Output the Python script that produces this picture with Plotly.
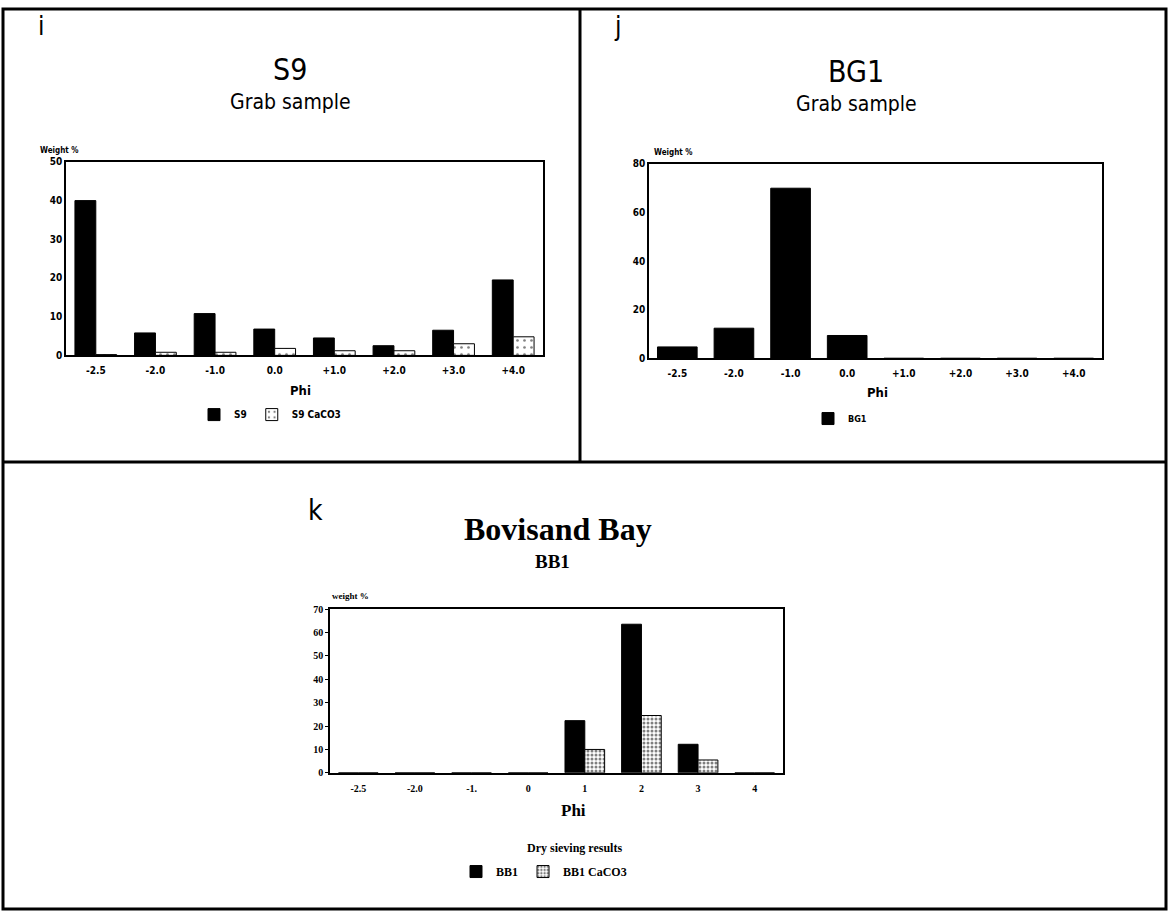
import plotly.graph_objects as go

# Sieve classes (phi) and weight percentages for each sample
phi_labels_grab = ["-2.5", "-2.0", "-1.0", "0.0", "+1.0", "+2.0", "+3.0", "+4.0"]
phi_labels_bb = ["-2.5", "-2.0", "-1.", "0", "1", "2", "3", "4"]

s9_total = [40.0, 5.8, 10.8, 6.8, 4.5, 2.5, 6.5, 19.5]
s9_caco3 = [0.2, 0.8, 0.8, 1.8, 1.2, 1.2, 3.0, 4.8]

bg1_total = [4.7, 12.4, 70.0, 9.4, 0.0, 0.0, 0.0, 0.0]

bb1_total = [0.0, 0.0, 0.0, 0.0, 22.3, 63.5, 12.2, 0.0]
bb1_caco3 = [0.0, 0.0, 0.0, 0.0, 10.0, 24.5, 5.5, 0.0]

W, H = 1170, 918


def fx(px):
    return px / W


def fy(py):
    return 1 - py / H


SANS = "Liberation Sans Narrow, DejaVu Sans Condensed, Arial, sans-serif"
BOLD_SANS = "DejaVu Sans Condensed, DejaVu Sans, sans-serif"
SERIF = "Liberation Serif, Times New Roman, serif"

fig = go.Figure()

# Panel i: S9
fig.add_trace(go.Bar(
    x=phi_labels_grab, y=s9_total, name="S9",
    marker=dict(color="black", line=dict(color="black", width=1)),
    xaxis="x", yaxis="y", legend="legend",
))
fig.add_trace(go.Bar(
    x=phi_labels_grab, y=s9_caco3, name="S9 CaCO3",
    marker=dict(color="white", line=dict(color="black", width=1),
                pattern=dict(shape=".", fgcolor="black", bgcolor="white",
                             size=7, solidity=0.12)),
    xaxis="x", yaxis="y", legend="legend",
))

# Panel j: BG1
fig.add_trace(go.Bar(
    x=phi_labels_grab, y=bg1_total, name="BG1",
    marker=dict(color="black", line=dict(color="black", width=1)),
    xaxis="x2", yaxis="y2", legend="legend2",
))

# Panel k: BB1
fig.add_trace(go.Bar(
    x=phi_labels_bb, y=bb1_total, name="BB1",
    marker=dict(color="black", line=dict(color="black", width=1)),
    xaxis="x3", yaxis="y3", legend="legend3",
))
fig.add_trace(go.Bar(
    x=phi_labels_bb, y=bb1_caco3, name="BB1 CaCO3",
    marker=dict(color="white", line=dict(color="black", width=1),
                pattern=dict(shape=".", fgcolor="black", bgcolor="white",
                             size=4, solidity=0.45)),
    xaxis="x3", yaxis="y3", legend="legend3",
))


def xaxis_cfg(dom, anchor, font):
    return dict(
        domain=[fx(dom[0]), fx(dom[1])], anchor=anchor,
        type="category", range=[-0.5, 7.5],
        showline=True, linecolor="black", linewidth=1.5, mirror=True,
        showgrid=False, zeroline=False, ticks="",
        tickfont=font, ticklabelstandoff=5, fixedrange=True,
    )


def yaxis_cfg(dom, anchor, rng, dtick, font, ticklen):
    return dict(
        domain=[fy(dom[1]), fy(dom[0])], anchor=anchor,
        range=rng, dtick=dtick, tick0=0,
        showline=True, linecolor="black", linewidth=1.5, mirror=True,
        showgrid=False, zeroline=False,
        ticks="outside" if ticklen else "", ticklen=ticklen, tickcolor="black",
        tickfont=font, fixedrange=True,
    )


grab_tick_font = dict(family=BOLD_SANS, size=10, color="black", weight="bold")
bb_tick_font = dict(family=SERIF, size=10, color="black", weight="bold")

fig.update_layout(
    width=W, height=H,
    margin=dict(l=0, r=0, t=0, b=0),
    paper_bgcolor="white", plot_bgcolor="white",
    barmode="group", bargap=0.3, bargroupgap=0.0,
    xaxis=xaxis_cfg((66, 543), "y", grab_tick_font),
    yaxis=yaxis_cfg((158, 354), "x", [0, 50], 10, grab_tick_font, 0),
    xaxis2=xaxis_cfg((649, 1102), "y2", grab_tick_font),
    yaxis2=yaxis_cfg((160, 357), "x2", [0, 80], 20, grab_tick_font, 0),
    xaxis3=xaxis_cfg((330, 783), "y3", bb_tick_font),
    yaxis3=yaxis_cfg((611, 777), "x3", [0, 70], 10, bb_tick_font, 3),
    legend=dict(orientation="h", x=fx(194), y=fy(414), yanchor="middle",
                xanchor="left",
                font=dict(family=BOLD_SANS, size=10, color="black", weight="bold"),
                itemwidth=30, bgcolor="rgba(0,0,0,0)"),
    legend2=dict(orientation="h", x=fx(808), y=fy(418), yanchor="middle",
                 xanchor="left",
                 font=dict(family=BOLD_SANS, size=9, color="black", weight="bold"),
                 itemwidth=30, bgcolor="rgba(0,0,0,0)"),
    legend3=dict(orientation="h", x=fx(456), y=fy(877), yanchor="middle",
                 xanchor="left",
                 font=dict(family=SERIF, size=12, color="black", weight="bold"),
                 itemwidth=30, bgcolor="rgba(0,0,0,0)"),
)

# Frame around the three panels
frame = dict(type="line", xref="paper", yref="paper", line=dict(color="black", width=3))
fig.add_shape(type="rect", xref="paper", yref="paper",
              x0=fx(3), x1=fx(1166), y0=fy(915), y1=fy(3),
              line=dict(color="black", width=3))
fig.add_shape(x0=fx(3), x1=fx(1166), y0=fy(462), y1=fy(462), **frame)
fig.add_shape(x0=fx(580), x1=fx(580), y0=fy(462), y1=fy(3), **frame)


def label(text, x, y, size, family, xanchor="center", weight="normal"):
    fig.add_annotation(text=text, x=fx(x), y=fy(y), xref="paper", yref="paper",
                       showarrow=False, xanchor=xanchor, yanchor="middle",
                       font=dict(family=family, size=size, color="black", weight=weight))


# Panel i text
label("i", 36, 20, 26, SANS, "left")
label("S9", 290, 64, 30, SANS)
label("Grab sample", 290, 97, 21, SANS)
label("Weight %", 38, 146, 8, BOLD_SANS, "left", "bold")
label("Phi", 300, 390, 13, BOLD_SANS, weight="bold")

# Panel j text
label("j", 612, 20, 26, SANS, "left")
label("BG1", 856, 66, 30, SANS)
label("Grab sample", 856, 99, 21, SANS)
label("Weight %", 652, 148, 8, BOLD_SANS, "left", "bold")
label("Phi", 877, 392, 13, BOLD_SANS, weight="bold")

# Panel k text
label("k", 306, 511, 28, SANS, "left")
label("Bovisand Bay", 558, 530, 32, SERIF, weight="bold")
label("BB1", 552, 563, 19, SERIF, weight="bold")
label("weight %", 330, 598, 9, SERIF, "left", "bold")
label("Phi", 573, 815, 17, SERIF, weight="bold")
label("Dry sieving results", 574, 853, 12, SERIF, weight="bold")

fig.write_html("out.html")
